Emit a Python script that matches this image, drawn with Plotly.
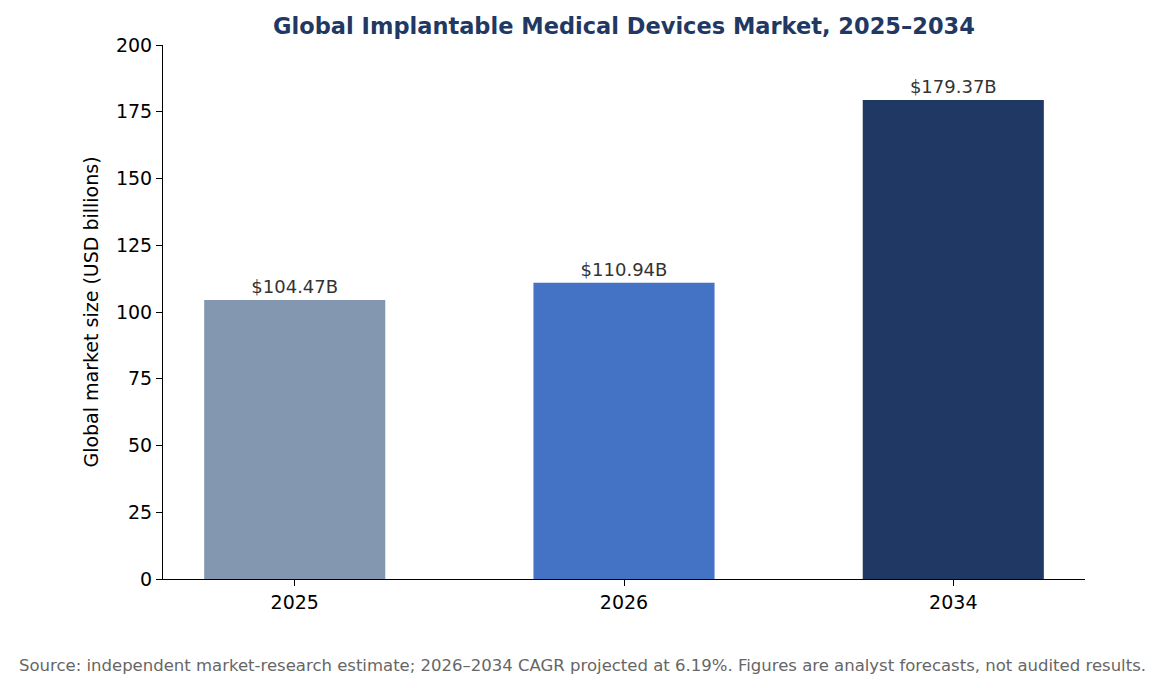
import plotly.graph_objects as go

years = ["2025", "2026", "2034"]
values = [104.47, 110.94, 179.37]
labels = ["$104.47B", "$110.94B", "$179.37B"]
colors = ["#8497B0", "#4472C4", "#203864"]

fig = go.Figure(go.Bar(
    x=years, y=values, width=0.55, marker=dict(color=colors, line=dict(width=0)),
    text=labels, textposition="outside", cliponaxis=False,
    textfont=dict(size=18, color="#333333", family="DejaVu Sans"),
))
fig.update_layout(
    width=1164, height=688, plot_bgcolor="white", paper_bgcolor="white",
    margin=dict(l=155, r=87, t=37, b=117),
    font=dict(family="DejaVu Sans", size=19, color="black"),
    title=dict(text="<b>Global Implantable Medical Devices Market, 2025–2034</b>",
               x=0.5, xref="paper", xanchor="center", y=1 - 18/688, yanchor="middle",
               font=dict(size=22.5, color="#1F3864")),
    showlegend=False, bargap=0.45,
)
fig.update_xaxes(type="category", range=[-0.4, 2.4], showline=True, linecolor="black",
                 ticks="outside", ticklen=6, tickcolor="black", showgrid=False,
                 tickfont=dict(size=19))
fig.update_yaxes(range=[0, 200], dtick=25, showline=True, linecolor="black",
                 ticks="outside", ticklen=6, tickcolor="black", showgrid=False, zeroline=False,
                 tickfont=dict(size=19),
                 title=dict(text="Global market size (USD billions)", standoff=12, font=dict(size=19)))
fig.add_annotation(text="Source: independent market-research estimate; 2026–2034 CAGR projected at 6.19%. Figures are analyst forecasts, not audited results.",
                   xref="paper", yref="paper", x=(582-163)/922, y=-(665-579)/534,
                   xanchor="center", yanchor="middle", showarrow=False,
                   font=dict(size=16.5, color="#666666"))
fig.write_html("out.html")
